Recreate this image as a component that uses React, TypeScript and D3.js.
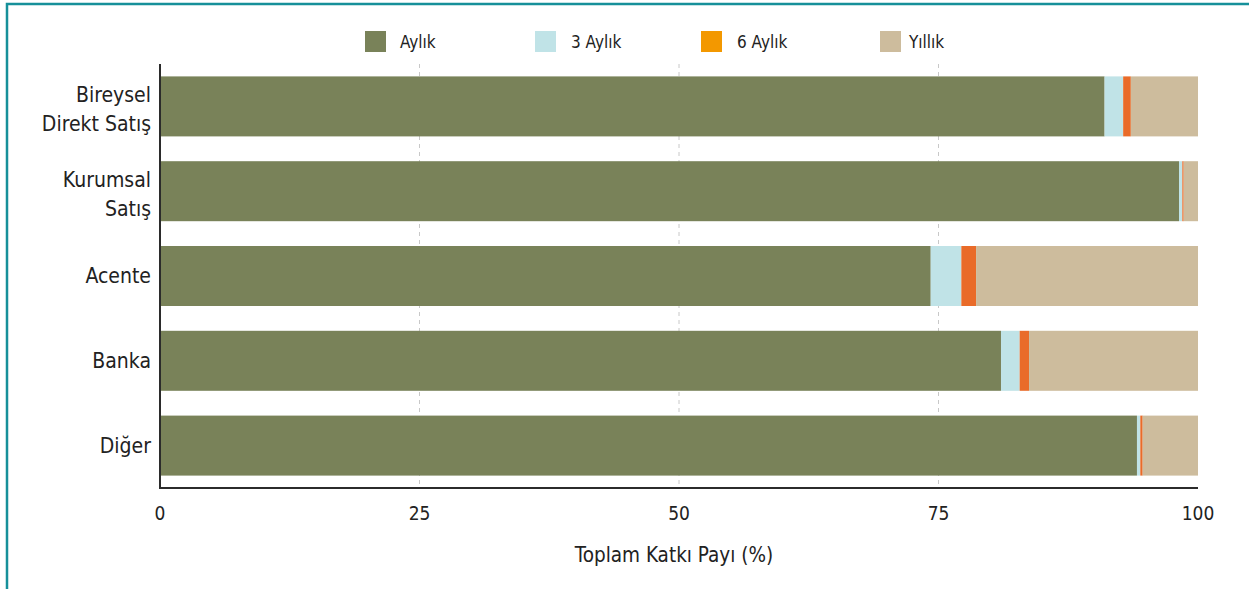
import React from "react";
import * as d3 from "d3";

const categories: string[][] = [
  ["Bireysel", "Direkt Satış"],
  ["Kurumsal", "Satış"],
  ["Acente"],
  ["Banka"],
  ["Diğer"],
];
const seriesNames = ["Aylık", "3 Aylık", "6 Aylık", "Yıllık"];
const aylik = [91.0, 98.17, 74.25, 81.02, 94.12];
const ucAylik = [1.79, 0.32, 2.95, 1.8, 0.32];
const altiAylik = [0.74, 0.13, 1.42, 0.9, 0.23];
const yillik = [6.47, 1.38, 21.38, 16.28, 5.33];
const xTicks = [0, 25, 50, 75, 100];
const axisTitle = "Toplam Katkı Payı (%)";

const barColors = ["#798259", "#c0e3e7", "#e96b29", "#cdbc9d"];
const legendColors = ["#798259", "#c0e3e7", "#f39800", "#cdbc9d"];
const legendBoxX = [365, 535, 701, 880];
const legendTextX = [400, 571, 737, 909];

const W = 1249;
const H = 589;
const FONT = "'DejaVu Sans Condensed', 'DejaVu Sans', sans-serif";

export default function App() {
  const x = d3.scaleLinear().domain([0, 100]).range([160, 1198]);
  const keys = categories.map((c) => c.join(" "));
  const y = d3
    .scaleBand<string>()
    .domain(keys)
    .range([64, 488])
    .paddingInner(0.2925)
    .paddingOuter(0.14625);

  const rows = keys.map((k, i) => ({
    key: k,
    s0: aylik[i],
    s1: ucAylik[i],
    s2: altiAylik[i],
    s3: yillik[i],
  }));
  const stack = d3.stack<any>().keys(["s0", "s1", "s2", "s3"]);
  const layers = stack(rows);

  return (
    <svg
      width={W}
      height={H}
      style={{ position: "absolute", left: 0, top: 0, background: "#fff" }}
      fontFamily={FONT}
    >
      <rect x={0} y={0} width={W} height={H} fill="#fff" />
      <rect
        x={7}
        y={4}
        width={W + 20}
        height={H + 20}
        fill="none"
        stroke="#16909a"
        strokeWidth={2.5}
      />
      {/* grid */}
      {xTicks
        .filter((t) => t > 0 && t < 100)
        .map((t) => (
          <line
            key={t}
            x1={x(t)}
            x2={x(t)}
            y1={64}
            y2={488}
            stroke="#c8c8c8"
            strokeWidth={1}
            strokeDasharray="4,4"
          />
        ))}
      {/* bars */}
      {layers.map((layer, li) =>
        layer.map((d, i) => (
          <rect
            key={li + "-" + i}
            x={x(d[0])}
            y={y(keys[i])!}
            width={Math.max(0, x(d[1]) - x(d[0]))}
            height={y.bandwidth()}
            fill={barColors[li]}
          />
        ))
      )}
      {/* axes */}
      <line x1={160} x2={160} y1={64} y2={489} stroke="#2b2b2b" strokeWidth={2} />
      <line x1={159} x2={1198} y1={488} y2={488} stroke="#2b2b2b" strokeWidth={2} />
      {xTicks.map((t) => (
        <text
          key={t}
          x={x(t)}
          y={520}
          textAnchor="middle"
          fontSize={19}
          fill="#222"
        >
          {t}
        </text>
      ))}
      <text x={x(50) - 5} y={562} textAnchor="middle" fontSize={20.5} fill="#222">
        {axisTitle}
      </text>
      {/* category labels */}
      {categories.map((lines, i) => {
        const cy = y(keys[i])! + y.bandwidth() / 2;
        if (lines.length === 1) {
          return (
            <text key={i} x={151} y={cy + 7} textAnchor="end" fontSize={21} fill="#222">
              {lines[0]}
            </text>
          );
        }
        return (
          <text key={i} x={151} textAnchor="end" fontSize={21} fill="#222">
            <tspan x={151} y={cy - 4}>
              {lines[0]}
            </tspan>
            <tspan x={151} y={cy + 25}>
              {lines[1]}
            </tspan>
          </text>
        );
      })}
      {/* legend */}
      {seriesNames.map((n, i) => (
        <g key={n}>
          <rect x={legendBoxX[i]} y={31} width={21} height={21} fill={legendColors[i]} />
          <text x={legendTextX[i]} y={48} fontSize={17} fill="#222">
            {n}
          </text>
        </g>
      ))}
    </svg>
  );
}
